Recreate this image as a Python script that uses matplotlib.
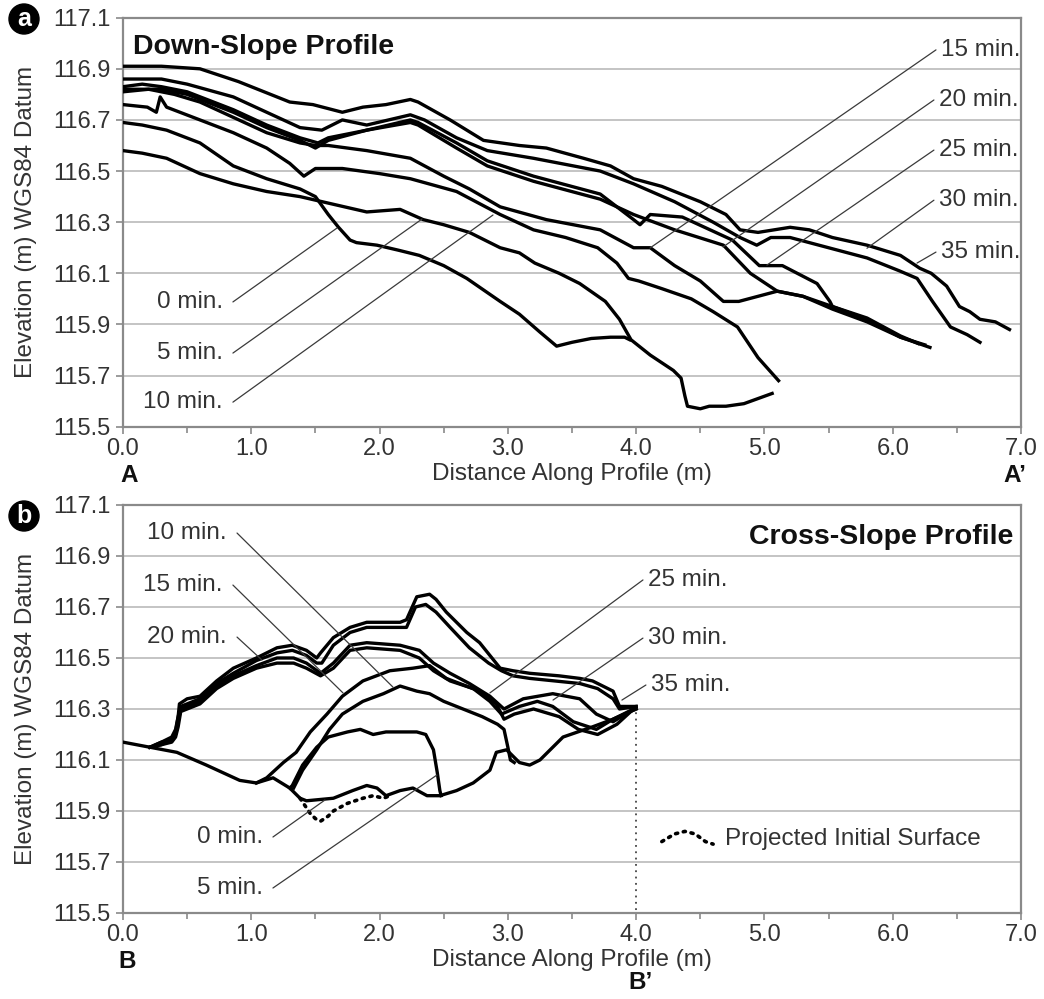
import matplotlib
matplotlib.use('Agg')
import matplotlib.pyplot as plt
from matplotlib.ticker import MultipleLocator, FormatStrFormatter

plt.rcParams['font.family'] = ['Liberation Sans', 'DejaVu Sans']

# ---------------- Panel a : Down-slope profile ----------------
a_t0_x = [0, 0.15, 0.34, 0.6, 0.86, 1.12, 1.38, 1.5, 1.6, 1.68, 1.77, 1.82, 1.98, 2.15, 2.31, 2.5, 2.68, 2.94, 3.09, 3.25, 3.38, 3.5, 3.65, 3.8, 3.91, 3.95]
a_t0_y = [116.69, 116.68, 116.66, 116.61, 116.52, 116.47, 116.43, 116.40, 116.33, 116.28, 116.23, 116.22, 116.21, 116.19, 116.17, 116.13, 116.08, 115.99, 115.94, 115.87, 115.815, 115.83, 115.845, 115.85, 115.85, 115.84]

a_t5_x = [0, 0.15, 0.34, 0.6, 0.86, 1.12, 1.38, 1.64, 1.9, 2.16, 2.34, 2.5, 2.7, 2.94, 3.09, 3.21, 3.4, 3.56, 3.76, 3.87, 3.96, 4.11, 4.29, 4.35, 4.38, 4.40, 4.5, 4.57, 4.7, 4.84, 4.95, 5.06]
a_t5_y = [116.58, 116.57, 116.55, 116.49, 116.45, 116.42, 116.40, 116.37, 116.34, 116.35, 116.31, 116.29, 116.26, 116.20, 116.18, 116.14, 116.10, 116.06, 115.99, 115.92, 115.84, 115.78, 115.72, 115.69, 115.62, 115.58, 115.57, 115.58, 115.58, 115.59, 115.61, 115.63]

a_t10_x = [0, 0.19, 0.26, 0.29, 0.34, 0.6, 0.86, 1.12, 1.3, 1.41, 1.5, 1.71, 2.0, 2.24, 2.6, 2.94, 3.2, 3.45, 3.7, 3.85, 3.94, 4.02, 4.2, 4.43, 4.6, 4.79, 4.95, 5.11]
a_t10_y = [116.76, 116.75, 116.73, 116.79, 116.75, 116.70, 116.65, 116.59, 116.53, 116.48, 116.51, 116.51, 116.49, 116.47, 116.42, 116.33, 116.27, 116.24, 116.20, 116.14, 116.08, 116.07, 116.04, 116.00, 115.95, 115.89, 115.77, 115.68]

a_t15_x = [0, 0.2, 0.4, 0.6, 0.86, 1.12, 1.38, 1.5, 1.6, 1.9, 2.24, 2.5, 2.7, 2.94, 3.3, 3.72, 3.98, 4.11, 4.3, 4.5, 4.68, 4.8, 4.95, 5.1, 5.3, 5.53, 5.8, 6.06, 6.25]
a_t15_y = [116.81, 116.82, 116.80, 116.77, 116.71, 116.65, 116.61, 116.60, 116.60, 116.58, 116.55, 116.48, 116.43, 116.36, 116.31, 116.27, 116.20, 116.20, 116.13, 116.07, 115.99, 115.99, 116.01, 116.03, 116.01, 115.97, 115.92, 115.85, 115.82]

a_t20_x = [0, 0.15, 0.3, 0.5, 0.86, 1.12, 1.38, 1.5, 1.6, 1.9, 2.24, 2.3, 2.6, 2.84, 3.2, 3.72, 3.98, 4.3, 4.68, 4.89, 5.10, 5.3, 5.53, 5.8, 6.06, 6.29]
a_t20_y = [116.82, 116.82, 116.82, 116.80, 116.73, 116.67, 116.62, 116.59, 116.62, 116.66, 116.69, 116.68, 116.59, 116.52, 116.46, 116.39, 116.33, 116.27, 116.21, 116.10, 116.03, 116.01, 115.96, 115.91, 115.85, 115.81]

a_t25_x = [0, 0.15, 0.3, 0.5, 0.86, 1.12, 1.38, 1.52, 1.6, 1.9, 2.24, 2.3, 2.6, 2.84, 3.2, 3.72, 3.98, 4.03, 4.11, 4.36, 4.75, 4.96, 5.14, 5.41, 5.51, 5.53, 5.8, 6.06, 6.2]
a_t25_y = [116.83, 116.84, 116.83, 116.81, 116.74, 116.68, 116.63, 116.61, 116.63, 116.66, 116.70, 116.69, 116.61, 116.54, 116.48, 116.41, 116.31, 116.29, 116.33, 116.32, 116.23, 116.13, 116.13, 116.06, 115.99, 115.97, 115.925, 115.855, 115.825]

a_t30_x = [0, 0.3, 0.5, 0.86, 1.12, 1.38, 1.55, 1.71, 1.9, 2.24, 2.35, 2.6, 2.84, 3.2, 3.72, 3.98, 4.3, 4.6, 4.81, 4.94, 5.05, 5.2, 5.5, 5.8, 6.05, 6.19, 6.31, 6.45, 6.58, 6.68]
a_t30_y = [116.86, 116.86, 116.84, 116.79, 116.73, 116.67, 116.66, 116.70, 116.68, 116.72, 116.70, 116.63, 116.58, 116.55, 116.50, 116.45, 116.38, 116.30, 116.24, 116.21, 116.24, 116.24, 116.20, 116.16, 116.11, 116.08, 115.99, 115.89, 115.86, 115.83]

a_t35_x = [0, 0.3, 0.6, 0.9, 1.1, 1.3, 1.48, 1.71, 1.87, 2.05, 2.24, 2.3, 2.55, 2.81, 3.09, 3.3, 3.59, 3.8, 3.98, 4.2, 4.5, 4.7, 4.81, 4.95, 5.2, 5.35, 5.53, 5.8, 6.06, 6.21, 6.3, 6.42, 6.52, 6.6, 6.68, 6.8, 6.91]
a_t35_y = [116.91, 116.91, 116.90, 116.85, 116.81, 116.77, 116.76, 116.73, 116.75, 116.76, 116.78, 116.77, 116.70, 116.62, 116.60, 116.59, 116.55, 116.52, 116.47, 116.44, 116.38, 116.33, 116.27, 116.26, 116.28, 116.27, 116.24, 116.21, 116.17, 116.12, 116.10, 116.05, 115.97, 115.95, 115.92, 115.91, 115.88]

# ---------------- Panel b : Cross-slope profile ----------------
b_t0_x = [0, 0.21, 0.42, 0.65, 0.91, 1.04, 1.17, 1.30, 1.38, 1.43, 1.64, 1.79, 1.90, 1.98, 2.05, 2.16, 2.26, 2.37, 2.47, 2.60, 2.73, 2.86, 2.91, 2.99, 3.09, 3.17, 3.25, 3.43, 3.66, 3.82, 4.0]
b_t0_y = [116.17, 116.15, 116.13, 116.08, 116.02, 116.01, 116.03, 115.99, 115.95, 115.94, 115.95, 115.98, 116.00, 115.99, 115.96, 115.98, 115.99, 115.96, 115.96, 115.98, 116.01, 116.06, 116.13, 116.14, 116.09, 116.08, 116.10, 116.19, 116.23, 116.26, 116.30]

b_t5_x = [1.30, 1.32, 1.40, 1.51, 1.60, 1.75, 1.85, 1.95, 2.05, 2.16, 2.29, 2.36, 2.42, 2.45, 2.47, 2.48]
b_t5_y = [115.99, 116.00, 116.08, 116.15, 116.19, 116.21, 116.22, 116.20, 116.21, 116.21, 116.21, 116.20, 116.14, 116.05, 115.98, 115.96]

b_t10_x = [1.33, 1.40, 1.51, 1.61, 1.71, 1.87, 2.03, 2.16, 2.29, 2.39, 2.5, 2.65, 2.8, 2.92, 2.97, 3.0, 3.02, 3.05]
b_t10_y = [115.99, 116.06, 116.14, 116.22, 116.28, 116.33, 116.36, 116.39, 116.37, 116.36, 116.33, 116.30, 116.27, 116.24, 116.22, 116.15, 116.10, 116.09]

b_t15_x = [1.04, 1.12, 1.25, 1.35, 1.46, 1.59, 1.71, 1.87, 2.08, 2.26, 2.39, 2.52, 2.78, 2.91, 2.97, 3.05, 3.2, 3.4, 3.55, 3.7, 3.85, 3.98]
b_t15_y = [116.01, 116.03, 116.09, 116.13, 116.21, 116.28, 116.35, 116.41, 116.45, 116.46, 116.47, 116.42, 116.37, 116.32, 116.26, 116.28, 116.30, 116.27, 116.22, 116.20, 116.24, 116.30]

b_t20_x = [0.21, 0.3, 0.38, 0.41, 0.43, 0.45, 0.5, 0.6, 0.73, 0.86, 1.04, 1.2, 1.33, 1.43, 1.54, 1.64, 1.77, 1.9, 2.16, 2.31, 2.42, 2.55, 2.73, 2.86, 2.95, 3.09, 3.23, 3.35, 3.51, 3.69, 3.82, 3.98]
b_t20_y = [116.15, 116.16, 116.17, 116.19, 116.23, 116.29, 116.30, 116.32, 116.38, 116.42, 116.46, 116.48, 116.48, 116.46, 116.43, 116.46, 116.53, 116.54, 116.53, 116.50, 116.45, 116.41, 116.38, 116.33, 116.28, 116.31, 116.33, 116.31, 116.25, 116.22, 116.26, 116.30]

b_t25_x = [0.21, 0.3, 0.38, 0.41, 0.43, 0.45, 0.5, 0.6, 0.73, 0.86, 1.04, 1.2, 1.33, 1.43, 1.54, 1.64, 1.77, 1.9, 2.16, 2.31, 2.42, 2.55, 2.7, 2.86, 2.97, 3.12, 3.35, 3.56, 3.69, 3.82, 3.95, 4.0]
b_t25_y = [116.15, 116.16, 116.18, 116.20, 116.25, 116.30, 116.31, 116.33, 116.39, 116.43, 116.47, 116.50, 116.50, 116.48, 116.44, 116.48, 116.55, 116.56, 116.55, 116.53, 116.48, 116.44, 116.40, 116.35, 116.30, 116.34, 116.36, 116.34, 116.28, 116.25, 116.29, 116.30]

b_t30_x = [0.21, 0.3, 0.38, 0.41, 0.43, 0.45, 0.5, 0.6, 0.73, 0.86, 1.04, 1.2, 1.32, 1.43, 1.51, 1.55, 1.64, 1.77, 1.9, 2.16, 2.21, 2.28, 2.36, 2.44, 2.55, 2.7, 2.85, 2.95, 3.04, 3.17, 3.56, 3.7, 3.82, 3.87, 4.0]
b_t30_y = [116.15, 116.17, 116.18, 116.21, 116.27, 116.31, 116.32, 116.34, 116.40, 116.44, 116.49, 116.52, 116.53, 116.51, 116.48, 116.48, 116.55, 116.60, 116.62, 116.62, 116.62, 116.70, 116.71, 116.68, 116.62, 116.54, 116.48, 116.45, 116.43, 116.42, 116.40, 116.38, 116.34, 116.30, 116.31]

b_t35_x = [0.21, 0.3, 0.38, 0.41, 0.43, 0.44, 0.5, 0.6, 0.73, 0.86, 1.04, 1.2, 1.32, 1.43, 1.51, 1.54, 1.64, 1.77, 1.9, 2.16, 2.21, 2.29, 2.39, 2.44, 2.52, 2.68, 2.78, 2.94, 3.04, 3.17, 3.4, 3.56, 3.66, 3.82, 3.87, 4.0]
b_t35_y = [116.15, 116.17, 116.19, 116.22, 116.27, 116.32, 116.34, 116.35, 116.41, 116.46, 116.50, 116.54, 116.55, 116.53, 116.50, 116.52, 116.58, 116.62, 116.64, 116.64, 116.65, 116.74, 116.75, 116.73, 116.68, 116.60, 116.56, 116.46, 116.45, 116.44, 116.43, 116.42, 116.41, 116.37, 116.31, 116.31]

proj_x = [1.38, 1.42, 1.46, 1.50, 1.54, 1.60, 1.64, 1.75, 1.87, 1.95, 2.03, 2.08]
proj_y = [115.95, 115.92, 115.89, 115.87, 115.86, 115.88, 115.90, 115.93, 115.95, 115.96, 115.95, 115.96]

legend_x = [4.2, 4.3, 4.38, 4.46, 4.54, 4.6]
legend_y = [115.78, 115.81, 115.82, 115.81, 115.78, 115.77]

yticks = [115.5, 115.7, 115.9, 116.1, 116.3, 116.5, 116.7, 116.9, 117.1]
xticks = [0, 1, 2, 3, 4, 5, 6, 7]

labels_a_left = ['0 min.', '5 min.', '10 min.']
labels_a_right = ['15 min.', '20 min.', '25 min.', '30 min.', '35 min.']
labels_b_left = ['10 min.', '15 min.', '20 min.']
labels_b_low = ['0 min.', '5 min.']
labels_b_right = ['25 min.', '30 min.', '35 min.']

fig = plt.figure(figsize=(10.44, 9.99), dpi=100)
L, W = 0.1178, 0.8602
ax_a = fig.add_axes([L, 0.5729, W, 0.4094])
ax_b = fig.add_axes([L, 0.0861, W, 0.4084])

TXT = '#333333'
GRID = '#c4c4c4'
SPINE = '#8a8a8a'
FS = 17


def style(ax):
    ax.set_xlim(0, 7)
    ax.set_ylim(115.5, 117.1)
    ax.set_yticks(yticks)
    ax.set_xticks(xticks)
    ax.xaxis.set_minor_locator(MultipleLocator(0.5))
    ax.xaxis.set_major_formatter(FormatStrFormatter('%.1f'))
    ax.yaxis.set_major_formatter(FormatStrFormatter('%.1f'))
    ax.grid(axis='y', color=GRID, lw=1.4, zorder=0)
    ax.set_axisbelow(True)
    for s in ax.spines.values():
        s.set_color(SPINE)
        s.set_linewidth(1.6)
    ax.tick_params(axis='both', which='both', direction='out', color=SPINE,
                   labelsize=FS, labelcolor=TXT, width=1.2)
    ax.tick_params(axis='x', which='major', length=5, pad=3)
    ax.tick_params(axis='x', which='minor', length=4)
    ax.tick_params(axis='y', which='major', length=5, pad=4)
    ax.set_ylabel('Elevation (m) WGS84 Datum', fontsize=17.5, color=TXT)
    ax.yaxis.set_label_coords(-0.096, 0.5)
    ax.set_xlabel('Distance Along Profile (m)', fontsize=17.5, color=TXT)
    ax.xaxis.set_label_coords(0.5, -0.115)
    ax.xaxis.label.set_verticalalignment('center')


style(ax_a)
style(ax_b)

LW = 2.4
for xs, ys in [(a_t0_x, a_t0_y), (a_t5_x, a_t5_y), (a_t10_x, a_t10_y), (a_t15_x, a_t15_y),
               (a_t20_x, a_t20_y), (a_t25_x, a_t25_y), (a_t30_x, a_t30_y), (a_t35_x, a_t35_y)]:
    ax_a.plot(xs, ys, color='black', lw=LW, solid_joinstyle='round', zorder=3)

for xs, ys in [(b_t0_x, b_t0_y), (b_t5_x, b_t5_y), (b_t10_x, b_t10_y), (b_t15_x, b_t15_y),
               (b_t20_x, b_t20_y), (b_t25_x, b_t25_y), (b_t30_x, b_t30_y), (b_t35_x, b_t35_y)]:
    ax_b.plot(xs, ys, color='black', lw=LW, solid_joinstyle='round', zorder=3)

ax_b.plot(proj_x, proj_y, color='black', lw=2.6, linestyle=(0, (0.6, 1.6)),
          dash_capstyle='round', zorder=3)
ax_b.plot([4.0, 4.0], [116.31, 115.5], color='#444444', lw=1.3,
          linestyle=(0, (1, 2.5)), zorder=2)
ax_b.plot(legend_x, legend_y, color='black', lw=2.6, linestyle=(0, (0.6, 1.6)),
          dash_capstyle='round', zorder=3)
ax_b.text(4.69, 115.79, 'Projected Initial Surface', fontsize=17.5, color=TXT,
          ha='left', va='center')

LEAD = dict(arrowstyle='-', color='#3a3a3a', lw=0.9, shrinkA=0, shrinkB=0)


def leader(ax, text, start, end, ha):
    ax.annotate('', xy=end, xytext=start, arrowprops=LEAD, zorder=4)
    off = -0.08 if ha == 'right' else 0.04
    ax.text(start[0] + off, start[1], text, fontsize=17.5, color=TXT, ha=ha, va='center')


# panel a leaders
leader(ax_a, labels_a_left[0], (0.857, 115.988), (1.668, 116.277), 'right')
leader(ax_a, labels_a_left[1], (0.857, 115.788), (2.330, 116.312), 'right')
leader(ax_a, labels_a_left[2], (0.857, 115.596), (2.884, 116.328), 'right')
leader(ax_a, labels_a_right[0], (6.337, 116.974), (4.108, 116.199), 'left')
leader(ax_a, labels_a_right[1], (6.321, 116.778), (4.677, 116.203), 'left')
leader(ax_a, labels_a_right[2], (6.321, 116.582), (5.019, 116.132), 'left')
leader(ax_a, labels_a_right[3], (6.321, 116.386), (5.799, 116.198), 'left')
leader(ax_a, labels_a_right[4], (6.337, 116.183), (6.189, 116.140), 'left')

# panel b leaders
leader(ax_b, labels_b_left[0], (0.889, 116.990), (2.104, 116.386), 'right')
leader(ax_b, labels_b_left[1], (0.857, 116.786), (1.715, 116.363), 'right')
leader(ax_b, labels_b_left[2], (0.889, 116.582), (1.083, 116.492), 'right')
leader(ax_b, labels_b_low[0], (1.169, 115.798), (1.574, 115.943), 'right')
leader(ax_b, labels_b_low[1], (1.169, 115.598), (2.447, 116.041), 'right')
leader(ax_b, labels_b_right[0], (4.053, 116.806), (2.860, 116.363), 'left')
leader(ax_b, labels_b_right[1], (4.053, 116.578), (3.352, 116.335), 'left')
leader(ax_b, labels_b_right[2], (4.076, 116.394), (3.889, 116.335), 'left')

# titles
ax_a.text(0.011, 0.928, 'Down-Slope Profile', transform=ax_a.transAxes, fontsize=20.5,
          fontweight='bold', color='#111111', ha='left', va='center')
ax_b.text(0.992, 0.921, 'Cross-Slope Profile', transform=ax_b.transAxes, fontsize=20.5,
          fontweight='bold', color='#111111', ha='right', va='center')

# end-point letters
ax_a.text(0.05, -0.12, 'A', transform=ax_a.get_xaxis_transform(), fontsize=17.5,
          fontweight='bold', color='#111111', ha='center', va='center')
ax_a.text(6.95, -0.12, 'A\u2019', transform=ax_a.get_xaxis_transform(), fontsize=17.5,
          fontweight='bold', color='#111111', ha='center', va='center')
ax_b.text(0.03, -0.12, 'B', transform=ax_b.get_xaxis_transform(), fontsize=17.5,
          fontweight='bold', color='#111111', ha='center', va='center')
ax_b.text(4.03, -0.17, 'B\u2019', transform=ax_b.get_xaxis_transform(), fontsize=17.5,
          fontweight='bold', color='#111111', ha='center', va='center')

# panel letters
for lab, yy in [('a', 1 - 19 / 999), ('b', 1 - 516 / 999)]:
    fig.text(24 / 1044, yy, lab, fontsize=18, fontweight='bold', color='white',
             ha='center', va='center',
             bbox=dict(boxstyle='circle,pad=0.12', fc='black', ec='black'))

fig.savefig('out.png', dpi=100)
